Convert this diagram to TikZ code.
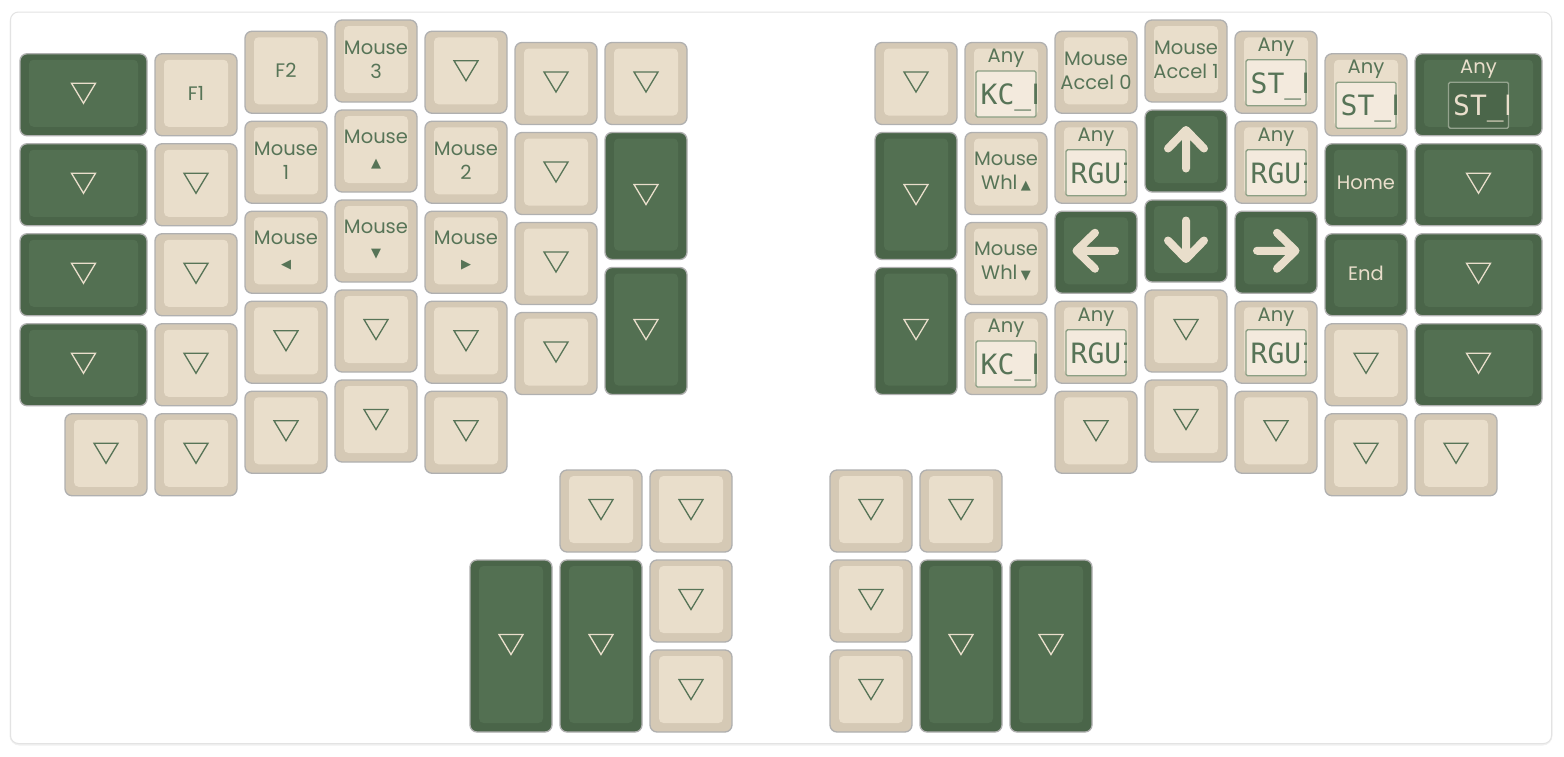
\documentclass[tikz,border=0pt]{standalone}
\usepackage{fontspec}
\setmainfont{Poppins}
\newfontfamily\monof{DejaVu Sans Mono}
\newfontfamily\symf{DejaVu Sans}
\definecolor{cBOut}{HTML}{D5C9B5}
\definecolor{cBIn}{HTML}{E9DECB}
\definecolor{cGOut}{HTML}{4A6549}
\definecolor{cGIn}{HTML}{537052}
\definecolor{cEdge}{HTML}{B0B0B0}
\definecolor{cInk}{HTML}{577457}
\definecolor{cCream}{HTML}{E9DECB}
\definecolor{cBoxFill}{HTML}{F3EADD}
\definecolor{cBoxEdge}{HTML}{8C9F84}
\definecolor{cGBoxEdge}{HTML}{94A38E}
\definecolor{cGBoxFill}{HTML}{4B664A}
\newcommand\sm{\symf\fontsize{13}{13}\selectfont}
\tikzset{
  bout/.style={fill=cBOut,draw=cEdge,line width=1.3pt,rounded corners=7pt},
  gout/.style={fill=cGOut,draw=cEdge,line width=1.3pt,rounded corners=7pt},
  bin/.style={fill=cBIn,rounded corners=4.5pt},
  gin/.style={fill=cGIn,rounded corners=4.5pt},
  btxt/.style={text=cInk,font=\fontsize{19.5}{24}\selectfont,align=center,inner sep=0pt},
  gtxt/.style={text=cCream,font=\fontsize{19.5}{24}\selectfont,align=center,inner sep=0pt},
  btri/.style={draw=cInk,line width=1.3pt},
  gtri/.style={draw=cCream,line width=1.3pt},
  bbox/.style={fill=cBoxFill,draw=cBoxEdge,line width=1.4pt,rounded corners=1.5pt},
  gbox/.style={fill=cGBoxFill,draw=cGBoxEdge,line width=1.4pt,rounded corners=1.5pt},
  bmono/.style={text=cInk,font=\monof\fontsize{28}{28}\selectfont,anchor=base west,inner sep=0pt},
  gmono/.style={text=cCream,font=\monof\fontsize{28}{28}\selectfont,anchor=base west,inner sep=0pt},
  arrowst/.style={draw=cCream,line width=8pt,line cap=round,line join=round},
}
% kind, name, X, Y, w, h, content
\newcommand\kc[7]{%
  \pgfmathsetmacro\xa{16+90*#3+4}%
  \pgfmathsetmacro\ya{16+90*#4+4}%
  \pgfmathsetmacro\xb{16+90*(#3+#5)-4}%
  \pgfmathsetmacro\yb{16+90*(#4+#6)-4}%
  \path[#1out] (\xa,\ya) rectangle (\xb,\yb);
  \path[#1in] (\xa+9,\ya+6) rectangle (\xb-9,\yb-9);
  \node[#1txt] (#2) at ({(\xa+\xb)/2},{(\ya+\yb)/2-1.5}) {#7};
}
\newcommand\tk[6]{%
  \kc{#1}{#2}{#3}{#4}{#5}{#6}{}
  \draw[#1tri] (#2.center) ++(-12,-10) -- ++(24,0) -- ++(-12,20) -- cycle;
}
\newcommand\anykey[7]{%
  \kc{#1}{#2}{#3}{#4}{#5}{#6}{}
  \path (#2.center) ++(0,-23.5) node[#1txt] (#2any) {Any};
  \path[#1box] (#2.center) ++(-30,-11) rectangle ++(60,46);
  \begin{scope}
    \clip (#2.center) ++(-30,-11) rectangle ++(60,46);
    \path (#2.center) ++(-25.5,22.5) node[#1mono] (#2code) {#7};
  \end{scope}
}
\newcommand\arr[2]{%
  \draw[arrowst,shift={(#1.center)},rotate=#2] (0,19) -- (0,-19.5) (-18,-1) -- (0,-19.5) -- (18,-1);
}
\begin{document}
\begin{tikzpicture}[x=1pt,y=-1pt]
\useasboundingbox (0,0) rectangle (1564,756);
\fill[white] (0,0) rectangle (1564,756);
\draw[black!6,line width=2pt,rounded corners=9pt] (10.5,13) rectangle (1551.5,744.5);
\draw[black!11,fill=white,line width=1pt,rounded corners=8pt] (10.5,12) rectangle (1551.5,743.5);
% ---- left half
\tk{g}{a1}{0}{0.375}{1.5}{1}
\tk{g}{a2}{0}{1.375}{1.5}{1}
\tk{g}{a3}{0}{2.375}{1.5}{1}
\tk{g}{a4}{0}{3.375}{1.5}{1}
\tk{b}{a5}{0.5}{4.375}{1}{1}
\kc{b}{b1}{1.5}{0.375}{1}{1}{F1}
\tk{b}{b2}{1.5}{1.375}{1}{1}
\tk{b}{b3}{1.5}{2.375}{1}{1}
\tk{b}{b4}{1.5}{3.375}{1}{1}
\tk{b}{b5}{1.5}{4.375}{1}{1}
\kc{b}{c1}{2.5}{0.125}{1}{1}{F2}
\kc{b}{c2}{2.5}{1.125}{1}{1}{Mouse\\1}
\kc{b}{c3}{2.5}{2.125}{1}{1}{Mouse\\{\sm ◀}}
\tk{b}{c4}{2.5}{3.125}{1}{1}
\tk{b}{c5}{2.5}{4.125}{1}{1}
\kc{b}{d1}{3.5}{0}{1}{1}{Mouse\\3}
\kc{b}{d2}{3.5}{1}{1}{1}{Mouse\\{\sm ▲}}
\kc{b}{d3}{3.5}{2}{1}{1}{Mouse\\{\sm ▼}}
\tk{b}{d4}{3.5}{3}{1}{1}
\tk{b}{d5}{3.5}{4}{1}{1}
\tk{b}{e1}{4.5}{0.125}{1}{1}
\kc{b}{e2}{4.5}{1.125}{1}{1}{Mouse\\2}
\kc{b}{e3}{4.5}{2.125}{1}{1}{Mouse\\{\sm ▶}}
\tk{b}{e4}{4.5}{3.125}{1}{1}
\tk{b}{e5}{4.5}{4.125}{1}{1}
\tk{b}{f1}{5.5}{0.25}{1}{1}
\tk{b}{f2}{5.5}{1.25}{1}{1}
\tk{b}{f3}{5.5}{2.25}{1}{1}
\tk{b}{f4}{5.5}{3.25}{1}{1}
\tk{b}{g1}{6.5}{0.25}{1}{1}
\tk{g}{g2}{6.5}{1.25}{1}{1.5}
\tk{g}{g3}{6.5}{2.75}{1}{1.5}
% ---- left thumb
\tk{g}{t1}{5}{6}{1}{2}
\tk{b}{t2}{6}{5}{1}{1}
\tk{g}{t3}{6}{6}{1}{2}
\tk{b}{t4}{7}{5}{1}{1}
\tk{b}{t5}{7}{6}{1}{1}
\tk{b}{t6}{7}{7}{1}{1}
% ---- right thumb
\tk{b}{u1}{9}{5}{1}{1}
\tk{b}{u2}{9}{6}{1}{1}
\tk{b}{u3}{9}{7}{1}{1}
\tk{b}{u4}{10}{5}{1}{1}
\tk{g}{u5}{10}{6}{1}{2}
\tk{g}{u6}{11}{6}{1}{2}
% ---- right half
\tk{b}{h1}{9.5}{0.25}{1}{1}
\tk{g}{h2}{9.5}{1.25}{1}{1.5}
\tk{g}{h3}{9.5}{2.75}{1}{1.5}
\anykey{b}{i1}{10.5}{0.25}{1}{1}{KC\_LSFT}
\kc{b}{i2}{10.5}{1.25}{1}{1}{Mouse\\Whl\,{\sm ▲}}
\kc{b}{i3}{10.5}{2.25}{1}{1}{Mouse\\Whl\,{\sm ▼}}
\anykey{b}{i4}{10.5}{3.25}{1}{1}{KC\_LSFT}
\kc{b}{j1}{11.5}{0.125}{1}{1}{Mouse\\Accel 0}
\anykey{b}{j2}{11.5}{1.125}{1}{1}{RGUI}
\kc{g}{j3}{11.5}{2.125}{1}{1}{}
\arr{j3}{90}
\anykey{b}{j4}{11.5}{3.125}{1}{1}{RGUI}
\tk{b}{j5}{11.5}{4.125}{1}{1}
\kc{b}{k1}{12.5}{0}{1}{1}{Mouse\\Accel 1}
\kc{g}{k2}{12.5}{1}{1}{1}{}
\arr{k2}{0}
\kc{g}{k3}{12.5}{2}{1}{1}{}
\arr{k3}{180}
\tk{b}{k4}{12.5}{3}{1}{1}
\tk{b}{k5}{12.5}{4}{1}{1}
\anykey{b}{l1}{13.5}{0.125}{1}{1}{ST\_LSFT}
\anykey{b}{l2}{13.5}{1.125}{1}{1}{RGUI}
\kc{g}{l3}{13.5}{2.125}{1}{1}{}
\arr{l3}{-90}
\anykey{b}{l4}{13.5}{3.125}{1}{1}{RGUI}
\tk{b}{l5}{13.5}{4.125}{1}{1}
\anykey{b}{m1}{14.5}{0.375}{1}{1}{ST\_LSFT}
\kc{g}{m2}{14.5}{1.375}{1}{1}{Home}
\kc{g}{m3}{14.5}{2.375}{1}{1}{End}
\tk{b}{m4}{14.5}{3.375}{1}{1}
\tk{b}{m5}{14.5}{4.375}{1}{1}
\anykey{g}{n1}{15.5}{0.375}{1.5}{1}{ST\_LSFT}
\tk{g}{n2}{15.5}{1.375}{1.5}{1}
\tk{g}{n3}{15.5}{2.375}{1.5}{1}
\tk{g}{n4}{15.5}{3.375}{1.5}{1}
\tk{b}{n5}{15.5}{4.375}{1}{1}
\end{tikzpicture}
\end{document}
